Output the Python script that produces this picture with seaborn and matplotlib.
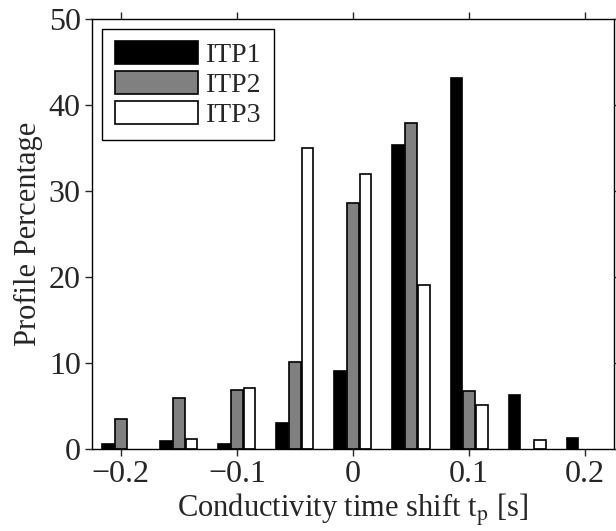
import matplotlib
matplotlib.use("Agg")
import matplotlib.pyplot as plt
from matplotlib.patches import Patch
import seaborn as sns
import pandas as pd

shifts = [-0.2, -0.15, -0.1, -0.05, 0.0, 0.05, 0.1, 0.15, 0.2]
itp1 = [0.5, 0.9, 0.5, 2.95, 9.0, 35.3, 43.1, 6.2, 1.3]
itp2 = [3.4, 5.9, 6.8, 10.1, 28.6, 37.9, 6.75, 0.0, 0.0]
itp3 = [0.0, 1.1, 7.06, 35.0, 32.0, 19.0, 5.05, 1.0, 0.0]
series_names = ["ITP1", "ITP2", "ITP3"]
series_colors = ["#000000", "#808080", "#ffffff"]
xticks = [-0.2, -0.1, 0.0, 0.1, 0.2]
xtick_labels = ["\u22120.2", "\u22120.1", "0", "0.1", "0.2"]
yticks = [0, 10, 20, 30, 40, 50]

sns.set_style("ticks")
plt.rcParams["font.family"] = ["Liberation Serif", "DejaVu Serif"]
plt.rcParams["mathtext.fontset"] = "stix"
FS_TICK = 23
FS_LABEL = 22
FS_LEG = 20

rows = []
for name, vals in zip(series_names, [itp1, itp2, itp3]):
    for s, v in zip(shifts, vals):
        if v > 0:
            rows.append({"shift": s, "pct": v, "series": name})
df = pd.DataFrame(rows)

fig = plt.figure(figsize=(6.16, 5.31), dpi=100)
ax = fig.add_axes([0.149, 0.155, 0.848, 0.809])

sns.barplot(data=df, x="shift", y="pct", hue="series", hue_order=series_names,
            palette=dict(zip(series_names, series_colors)), native_scale=True,
            width=0.66, gap=0.1, dodge=True, errorbar=None,
            edgecolor="black", linewidth=1.2, ax=ax, legend=False)

ax.set_xlim(-0.225, 0.225)
ax.set_ylim(0, 50)
ax.set_xticks(xticks)
ax.set_xticklabels(xtick_labels, fontsize=FS_TICK)
ax.set_yticks(yticks)
ax.set_yticklabels([str(t) for t in yticks], fontsize=FS_TICK)
ax.tick_params(direction="out", length=5, width=1, top=True, right=True,
               labeltop=False, labelright=False, pad=3)
for sp in ax.spines.values():
    sp.set_visible(True)
    sp.set_linewidth(1.0)
    sp.set_color("black")

ax.set_xlabel(r"Conductivity time shift t$_{\mathrm{p}}$ [s]", fontsize=FS_LABEL, labelpad=2)
ax.set_ylabel("Profile Percentage", fontsize=FS_LABEL, labelpad=4)

handles = [Patch(facecolor=c, edgecolor="black", linewidth=1.2) for c in series_colors]
leg = ax.legend(handles, series_names, loc="upper left", bbox_to_anchor=(0.02, 0.978),
                fontsize=FS_LEG, frameon=True, fancybox=False, edgecolor="black",
                framealpha=1, handlelength=3.0, handleheight=0.9,
                labelspacing=0.1, borderpad=0.45, handletextpad=0.3, borderaxespad=0)
leg.get_frame().set_linewidth(1.0)

fig.savefig("out.png", dpi=100)
